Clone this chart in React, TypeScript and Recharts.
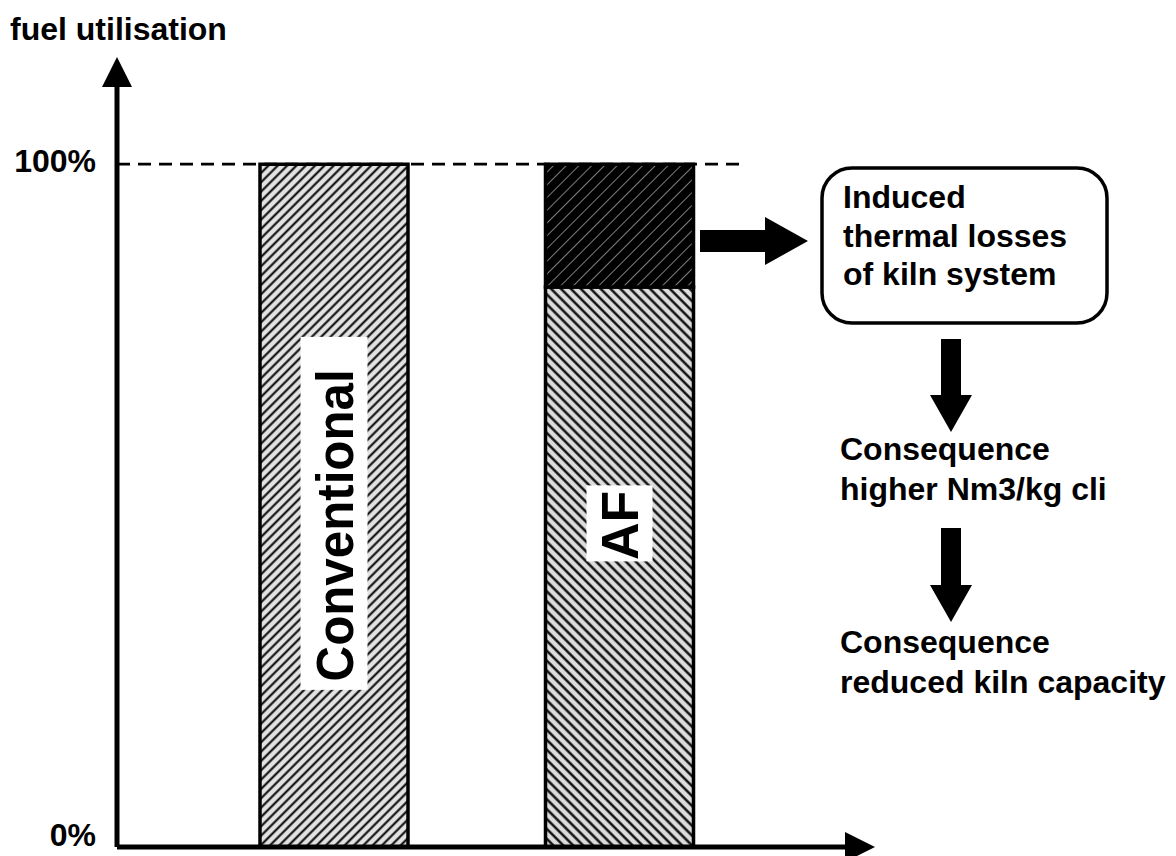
import { BarChart, Bar, Cell, XAxis, YAxis, ReferenceLine, LabelList } from 'recharts';

// categories and stacked values (percent of fuel energy)
const categories = ['Conventional', 'AF'];
const utilisedFuel = [100, 82];
const thermalLosses = [0, 18];

const yTicks = [0, 100];
const yTickLabels: { [key: number]: string } = { 0: '0%', 100: '100%' };
const yAxisTop = 111.3; // axis runs a bit past 100% up to the arrow

const boxNote = ['Induced', 'thermal losses', 'of kiln system'];
const firstConsequence = ['Consequence', 'higher Nm3/kg cli'];
const secondConsequence = ['Consequence', 'reduced kiln capacity'];

const FONT = '"Liberation Sans", Arial, Helvetica, sans-serif';

const fills: { [key: string]: string } = {
  Conventional: 'url(#hatchConv)',
  AF: 'url(#hatchAF)',
};

// white tag behind the rotated bar names
const tagBoxes: { [key: string]: { w: number; h: number; shift: number; len?: number } } = {
  Conventional: { w: 67, h: 353, shift: -12, len: 312 },
  AF: { w: 66, h: 76, shift: -2 },
};

const data = categories.map((name, i) => ({
  name,
  utilised: utilisedFuel[i],
  losses: thermalLosses[i],
}));

const renderBarTag = (props: any) => {
  const { x, y, width, height, index } = props;
  const name = categories[index];
  const fullPx = (height * 100) / utilisedFuel[index];
  const cx = x + width / 2;
  const cy = y + height - fullPx * 0.471;
  const box = tagBoxes[name];
  return (
    <g>
      <rect x={cx - box.w / 2} y={cy - box.h / 2 + box.shift} width={box.w} height={box.h} fill="#fff" />
      <text
        x={cx}
        y={cy}
        dy="0.36em"
        transform={`rotate(-90 ${cx} ${cy})`}
        textAnchor="middle"
        fontFamily={FONT}
        fontWeight="bold"
        fontSize={52}
        fill="#000"
        textLength={box.len}
        lengthAdjust={box.len ? 'spacingAndGlyphs' : undefined}
      >
        {name}
      </text>
    </g>
  );
};

const renderYTick = (props: any) => {
  const { x, y, payload } = props;
  const lift = payload.value === 0 ? 12 : 4;
  return (
    <text x={x} y={y - lift} dy="0.355em" textAnchor="end" fontFamily={FONT} fontWeight="bold" fontSize={32} fill="#000">
      {yTickLabels[payload.value]}
    </text>
  );
};

const renderDashed = (props: any) => {
  const x1 = Math.min(props.x1, props.x2);
  const x2 = Math.max(props.x1, props.x2) - 100;
  return <line x1={x1} y1={props.y1} x2={x2} y2={props.y2} stroke="#000" strokeWidth={2.6} strokeDasharray="13 8" />;
};

const Lines = ({ lines, x, y, step }: { lines: string[]; x: number; y: number; step: number }) => (
  <text x={x} y={y} fontFamily={FONT} fontWeight="bold" fontSize={32} fill="#000">
    {lines.map((l, i) => (
      <tspan key={i} x={x} dy={i === 0 ? 0 : step}>
        {l}
      </tspan>
    ))}
  </text>
);

const DownArrow = ({ cx, top, bottom }: { cx: number; top: number; bottom: number }) => {
  const headTop = bottom - 37;
  return (
    <path
      d={`M${cx - 10},${top} L${cx + 10},${top} L${cx + 10},${headTop} L${cx + 21},${headTop} L${cx},${bottom} L${cx - 21},${headTop} L${cx - 10},${headTop} Z`}
      fill="#000"
    />
  );
};

export default function App() {
  return (
    <div style={{ position: 'relative', width: 1176, height: 856, background: '#fff' }}>
      <style>{'body{margin:0}'}</style>
      <BarChart width={1176} height={856} data={data} margin={{ top: 87, right: 331, bottom: 0, left: 0 }}>
        <XAxis
          dataKey="name"
          height={9}
          tick={false}
          tickLine={false}
          padding={{ left: 74, right: 83 }}
          axisLine={{ stroke: '#000', strokeWidth: 5, markerEnd: 'url(#axisArrow)' }}
        />
        <YAxis
          width={117}
          domain={[0, yAxisTop]}
          ticks={yTicks}
          tickSize={0}
          tickMargin={21}
          tickLine={false}
          tick={renderYTick}
          axisLine={{ stroke: '#000', strokeWidth: 5, markerStart: 'url(#axisArrow)' }}
        />
        <ReferenceLine y={100} shape={renderDashed} />
        <Bar dataKey="utilised" stackId="a" barSize={148} stroke="#000" strokeWidth={3.5} isAnimationActive={false}>
          {data.map((d) => (
            <Cell key={d.name} fill={fills[d.name]} />
          ))}
          <LabelList dataKey="name" content={renderBarTag} />
        </Bar>
        <Bar dataKey="losses" stackId="a" barSize={148} fill="url(#hatchLoss)" stroke="#000" strokeWidth={3.5} isAnimationActive={false} />
      </BarChart>

      <svg width={1176} height={856} style={{ position: 'absolute', left: 0, top: 0, pointerEvents: 'none' }}>
        <defs>
          <marker id="axisArrow" markerUnits="userSpaceOnUse" markerWidth={30} markerHeight={30} viewBox="0 0 28 28" refX={0} refY={14} orient="auto-start-reverse">
            <path d="M0,0 L28,14 L0,28 Z" fill="#000" />
          </marker>
          <pattern id="hatchConv" width={6.6} height={6.6} patternUnits="userSpaceOnUse" patternTransform="rotate(45)">
            <rect width={6.6} height={6.6} fill="#e2e2e2" />
            <line x1={3.3} y1={0} x2={3.3} y2={6.6} stroke="#000" strokeWidth={2} />
          </pattern>
          <pattern id="hatchAF" width={7} height={7} patternUnits="userSpaceOnUse" patternTransform="rotate(-45)">
            <rect width={7} height={7} fill="#dcdcdc" />
            <line x1={3.5} y1={0} x2={3.5} y2={7} stroke="#000" strokeWidth={2.3} />
          </pattern>
          <pattern id="hatchLoss" width={9} height={9} patternUnits="userSpaceOnUse" patternTransform="rotate(45)">
            <rect width={9} height={9} fill="#000" />
            <line x1={4.5} y1={0} x2={4.5} y2={9} stroke="#fff" strokeWidth={0.9} strokeOpacity={0.55} />
          </pattern>
        </defs>

        <text x={10} y={40} fontFamily={FONT} fontWeight="bold" fontSize={32} fill="#000">
          fuel utilisation
        </text>

        {/* arrow from the losses segment to the note box */}
        <path d="M700,230 L765,230 L765,217 L808,241 L765,265 L765,252 L700,252 Z" fill="#000" />
        <rect x={822} y={168} width={285} height={155} rx={30} ry={30} fill="#fff" stroke="#000" strokeWidth={3.5} />
        <Lines lines={boxNote} x={843} y={208} step={38.5} />

        <DownArrow cx={951} top={339} bottom={432} />
        <Lines lines={firstConsequence} x={840} y={460} step={40} />

        <DownArrow cx={951} top={528} bottom={622} />
        <Lines lines={secondConsequence} x={840} y={653} step={40} />
      </svg>
    </div>
  );
}
